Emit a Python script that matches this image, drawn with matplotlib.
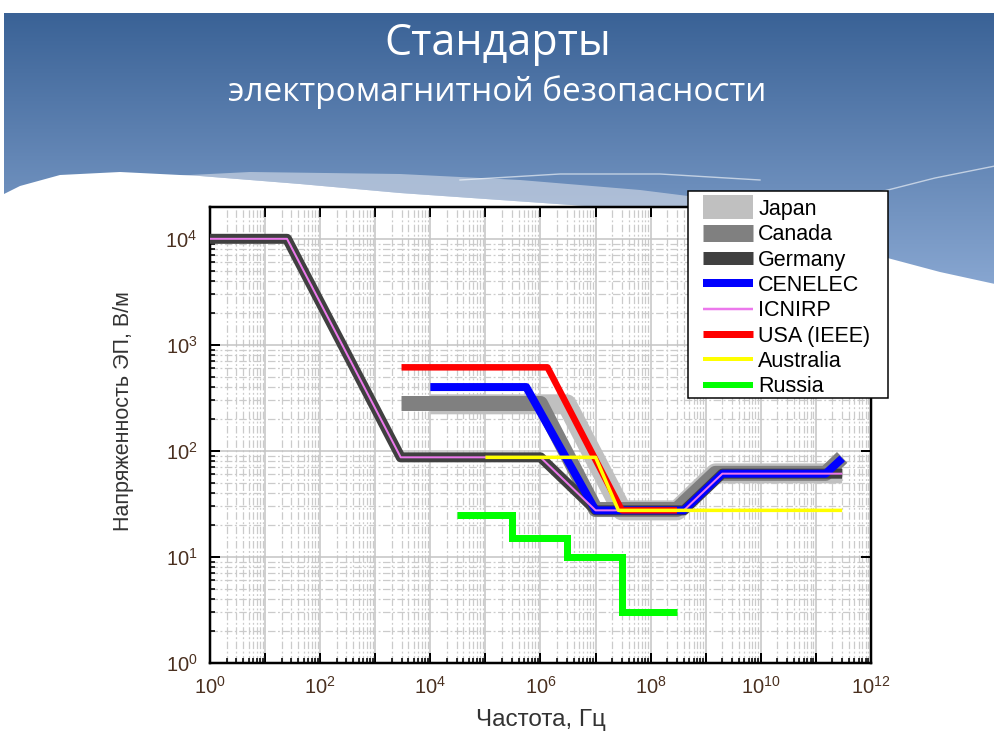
import numpy as np
import matplotlib
matplotlib.use("Agg")
import matplotlib.pyplot as plt
from matplotlib.lines import Line2D
from matplotlib.patches import Rectangle, Polygon
from matplotlib.ticker import FixedLocator, FuncFormatter, NullFormatter, LogLocator

# Electric-field limits: vertices of each curve, frequency in Hz, field strength in V/m
japan_f = [1e4, 3e6, 3e7, 3e8, 1.5e9, 3e11]
japan_e = [275, 275, 27.5, 27.5, 61.4, 61.4]

canada_f = [3e3, 1e6, 1e7, 3e8, 1.5e9, 1.5e11, 3e11]
canada_e = [280, 280, 28, 28, 61.4, 61.4, 86.8]

germany_f = [1, 25, 2.9e3, 1e6, 1e7, 4e8, 2e9, 3e11]
germany_e = [1e4, 1e4, 87, 87, 27.5, 27.5, 61, 61]

cenelec_f = [1e4, 5.5e5, 1e7, 4e8, 2e9, 1.5e11, 3e11]
cenelec_e = [400, 400, 27.5, 27.5, 61, 61, 85]

icnirp_f = [1, 25, 2.9e3, 1e6, 1e7, 4e8, 2e9, 3e11]
icnirp_e = [1e4, 1e4, 87, 87, 27.5, 27.5, 61, 61]

usa_f = [3e3, 1.34e6, 3e7, 3e8]
usa_e = [614, 614, 27.5, 27.5]

australia_f = [1e5, 1e7, 2.6e7, 3e11]
australia_e = [87, 87, 27.5, 27.5]

russia_f = [3e4, 3e5, 3e6, 3e7, 3e8]   # band edges
russia_e = [25, 15, 10, 3]             # level in each band

labels = ["Japan", "Canada", "Germany", "CENELEC", "ICNIRP", "USA (IEEE)", "Australia", "Russia"]
colors = ["#c0c0c0", "#808080", "#404040", "#0000ff", "#ec78ec", "#ff0000", "#ffff00", "#00ff00"]

x_ticks = [10.0 ** k for k in range(0, 13)]
y_ticks = [10.0 ** k for k in range(0, 5)]

PX = 0.72  # points per pixel at 100 dpi

plt.rcParams["font.family"] = ["Liberation Sans", "DejaVu Sans"]
plt.rcParams["mathtext.fontset"] = "custom"
plt.rcParams["mathtext.rm"] = "Liberation Sans"
plt.rcParams["mathtext.it"] = "Liberation Sans:italic"
plt.rcParams["mathtext.bf"] = "Liberation Sans:bold"

fig = plt.figure(figsize=(9.95, 7.34), dpi=100)
fig.patch.set_facecolor("white")

# ---- slide header: blue gradient with a white wave ----
bg = fig.add_axes([0, 0, 1, 1], zorder=-10)
bg.set_xlim(0, 995)
bg.set_ylim(734, 0)
bg.axis("off")
top_c = np.array([58, 98, 150]) / 255
bot_c = np.array([140, 170, 212]) / 255
t = np.linspace(0, 1, 256)[:, None, None]
grad = top_c[None, None, :] * (1 - t) + bot_c[None, None, :] * t
bg.imshow(grad, extent=(4, 995, 300, 13), aspect="auto", interpolation="bilinear", zorder=0)

band_top = [(130, 178), (250, 172), (400, 174), (520, 180), (640, 190), (720, 200)]
wave = [(0, 196), (20, 186), (60, 175), (120, 172), (200, 176), (300, 184), (400, 193),
        (500, 200), (600, 207), (700, 216), (800, 234), (880, 256), (940, 272), (995, 284)]
band_low = [p for p in wave if 130 <= p[0] <= 720]
bg.add_patch(Polygon(band_top + band_low[::-1], closed=True, facecolor="#c8d2e2",
                     edgecolor="none", alpha=0.7, zorder=1))
bg.add_patch(Polygon(wave + [(995, 734), (0, 734)], closed=True, facecolor="white",
                     edgecolor="none", zorder=2))
sx = np.array([460, 560, 660, 760])
sy = np.array([180, 174, 174, 180])
bg.plot(sx, sy, color="white", lw=1.0, alpha=0.6, zorder=3)
bg.plot([880, 935, 995], [192, 178, 166], color="white", lw=1.0, alpha=0.6, zorder=3)

fig.text(0.5, 1 - 44 / 734, "Стандарты", ha="center", va="center", fontsize=31,
         family="Open Sans", color="white")
fig.text(0.5, 1 - 92 / 734, "электромагнитной безопасности", ha="center", va="center",
         fontsize=24, family="Open Sans", color="white")

# ---- chart ----
ax = fig.add_axes([210 / 995, 1 - 663 / 734, (871 - 210) / 995, (663 - 207) / 734], zorder=1)
ax.set_facecolor("white")
ax.set_xscale("log")
ax.set_yscale("log")
ax.set_xlim(1, 1e12)
ax.set_ylim(1, 10 ** 4.3)

ax.xaxis.set_major_locator(FixedLocator(x_ticks))
ax.yaxis.set_major_locator(FixedLocator(y_ticks))
ax.xaxis.set_minor_locator(LogLocator(base=10, subs=np.arange(2, 10), numticks=40))
ax.yaxis.set_minor_locator(LogLocator(base=10, subs=np.arange(2, 10), numticks=40))
ax.xaxis.set_major_formatter(FuncFormatter(
    lambda v, p: "$10^{%d}$" % round(np.log10(v)) if round(np.log10(v)) % 2 == 0 else ""))
ax.yaxis.set_major_formatter(FuncFormatter(lambda v, p: "$10^{%d}$" % round(np.log10(v))))
ax.xaxis.set_minor_formatter(NullFormatter())
ax.yaxis.set_minor_formatter(NullFormatter())

ax.grid(which="major", color="#c4c4c4", lw=1.1, ls="-", zorder=0)
ax.grid(which="minor", color="#cbcbcb", lw=0.9, ls=(0, (6, 2, 1.5, 2)), zorder=0)
ax.set_axisbelow(True)

for s in ax.spines.values():
    s.set_linewidth(2.5 * PX)
    s.set_color("black")
ax.tick_params(which="major", direction="in", length=10 * PX, width=2 * PX,
               top=True, right=True, labelsize=14.5, labelcolor="#4a3020", color="black")
ax.tick_params(which="minor", direction="in", length=5 * PX, width=1.6 * PX,
               top=False, right=False)
ax.tick_params(axis="x", which="major", pad=9)
ax.tick_params(axis="y", which="major", pad=9)

style = dict(solid_capstyle="butt", solid_joinstyle="round")
ax.plot(japan_f, japan_e, color=colors[0], lw=20 * PX, zorder=2, **style)
ax.plot(canada_f, canada_e, color=colors[1], lw=15 * PX, zorder=3, **style)
ax.plot(germany_f, germany_e, color=colors[2], lw=10 * PX, zorder=4, **style)
ax.plot(cenelec_f, cenelec_e, color=colors[3], lw=8 * PX, zorder=5, **style)
ax.plot(icnirp_f, icnirp_e, color=colors[4], lw=2 * PX, zorder=6, **style)
ax.plot(usa_f, usa_e, color=colors[5], lw=6.5 * PX, zorder=7, **style)
ax.plot(australia_f, australia_e, color=colors[6], lw=3.5 * PX, zorder=8, **style)
ax.step(russia_f, russia_e + russia_e[-1:], where="post", color=colors[7], lw=7 * PX,
        zorder=9, solid_capstyle="butt", solid_joinstyle="miter")

fig.text(541 / 995, 1 - 720 / 734, "Частота, Гц", ha="center", va="center",
         fontsize=17.5, color="#333333")
fig.text(124 / 995, 1 - 411 / 734, "Напряженность ЭП, В/м", ha="center", va="center",
         rotation=90, fontsize=15.5, color="#333333")

# ---- legend ----
fig.patches.append(Rectangle((688 / 995, 1 - 398 / 734), 200 / 995, 207 / 734,
                             transform=fig.transFigure, facecolor="white",
                             edgecolor="black", lw=1.5 * PX, zorder=4))
handle_px = [24, 17, 13, 8, 2.5, 7, 4, 6]
handles = [Line2D([], [], color=c, lw=w * PX, solid_capstyle="butt")
           for c, w in zip(colors, handle_px)]
fig.legend(handles, labels, loc="upper left", bbox_to_anchor=(703 / 995, 1 - 199 / 734),
           bbox_transform=fig.transFigure, frameon=False, borderpad=0, borderaxespad=0,
           handlelength=2.33, handletextpad=0.23, labelspacing=0.2, fontsize=15.5)

fig.savefig("out.png", dpi=100)
